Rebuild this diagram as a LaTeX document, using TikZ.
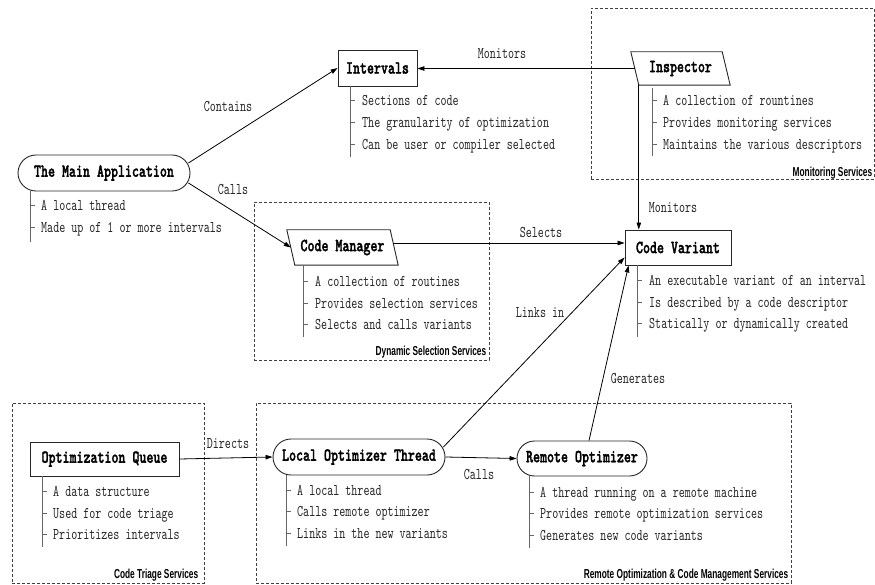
\documentclass[tikz,border=0pt]{standalone}
\usepackage{fontspec}
\usetikzlibrary{arrows.meta,shapes.misc,calc}
\newfontfamily\bodyf{lmmono10-regular.otf}[FakeStretch=0.70]
\newfontfamily\titlef{lmmonolt10-bold.otf}[FakeStretch=0.72,FakeBold=1.6]
\newfontfamily\grpf[FakeStretch=0.64]{Liberation Sans}
\tikzset{
  x=1pt, y=-1pt,
  boxline/.style={draw=black!85, line width=0.9pt},
  box/.style={boxline, inner sep=0pt, font=\titlef\fontsize{18.5}{22}\selectfont, text=black},
  rbox/.style={box, rounded rectangle},
  pbox/.style={inner sep=0pt, font=\titlef\fontsize{18.5}{22}\selectfont, text=black},
  item/.style={anchor=base west, inner sep=0pt, font=\bodyf\fontsize{16.4}{20}\selectfont, text=black!85},
  elabel/.style={inner sep=0pt, font=\bodyf\fontsize{16.4}{20}\selectfont, text=black!85},
  arr/.style={line width=0.8pt, draw=black, -{Triangle[length=7pt,width=4.5pt]}},
  grp/.style={draw=black!75, dash pattern=on 3pt off 2pt, line width=0.8pt, inner sep=0pt},
  glabel/.style={anchor=base east, inner sep=0pt, font=\grpf\bfseries\fontsize{13}{15}\selectfont, text=black},
  vline/.style={draw=black!60, line width=0.8pt},
}
\begin{document}
\begin{tikzpicture}
\useasboundingbox (0,0) rectangle (875,585);

% group boxes
\node[grp, minimum width=283pt, minimum height=171pt] (gmon) at (732.5,93.5) {};
\node[grp, minimum width=235pt, minimum height=158pt] (gsel) at (371.5,281) {};
\node[grp, minimum width=192pt, minimum height=180pt] (gtri) at (108,493) {};
\node[grp, minimum width=535pt, minimum height=180pt] (grem) at (523.5,493) {};
\node[glabel] (lmon) at ($(gmon.south east)+(-2,-3)$) {Monitoring Services};
\node[glabel] (lsel) at ($(gsel.south east)+(-3,-5)$) {Dynamic Selection Services};
\node[glabel] (ltri) at ($(gtri.south east)+(-6,-5)$) {Code Triage Services};
\node[glabel] (lrem) at ($(grem.south east)+(-3,-5)$) {Remote Optimization \& Code Management Services};

% main nodes
\node[box, minimum width=79pt, minimum height=36pt] (int) at (377.5,68) {Intervals};
\node[pbox, minimum width=91pt, minimum height=33pt] (insp) at (680.5,68.5) {Inspector};
\draw[boxline] ($(insp.north west)+(-4,0)$) -- ($(insp.north east)+(-4,0)$) -- ($(insp.south east)+(4,0)$) -- ($(insp.south west)+(4,0)$) -- cycle;
\node[rbox, minimum width=172pt, minimum height=36pt] (main) at (104,173) {The Main Application};
\node[pbox, minimum width=103pt, minimum height=35pt] (cm) at (342.5,247.5) {Code Manager};
\draw[boxline] ($(cm.north west)+(-4,0)$) -- ($(cm.north east)+(-4,0)$) -- ($(cm.south east)+(4,0)$) -- ($(cm.south west)+(4,0)$) -- cycle;
\node[box, minimum width=106pt, minimum height=35pt] (cv) at (678,247.5) {Code Variant};
\node[box, minimum width=149pt, minimum height=34pt] (oq) at (104.5,459) {Optimization Queue};
\node[rbox, minimum width=172pt, minimum height=36pt] (lot) at (359,457) {Local Optimizer Thread};
\node[rbox, minimum width=130pt, minimum height=35pt] (ro) at (582,458.5) {Remote Optimizer};

% feature lists
\draw[vline] (350,86) -- (350,157);
\foreach \yy/\txt [count=\i] in {100/Sections of code, 122/The granularity of optimization, 144/Can be user or compiler selected}{
  \draw[vline] (350,\yy) -- (355,\yy);
  \node[item] (int\i) at (362,{\yy+5.5}) {\txt};}
\draw[vline] (652,88) -- (652,156);
\foreach \yy/\txt [count=\i] in {100/A collection of rountines, 122/Provides monitoring services, 144/Maintains the various descriptors}{
  \draw[vline] (652,\yy) -- (657,\yy);
  \node[item] (insp\i) at (663,{\yy+5.5}) {\txt};}
\draw[vline] (30,191) -- (30,242);
\foreach \yy/\txt [count=\i] in {205/A local thread, 227/Made up of 1 or more intervals}{
  \draw[vline] (30,\yy) -- (35,\yy);
  \node[item] (main\i) at (41,{\yy+5.5}) {\txt};}
\draw[vline] (303,265) -- (303,337);
\foreach \yy/\txt [count=\i] in {281/A collection of routines, 303/Provides selection services, 324/Selects and calls variants}{
  \draw[vline] (303,\yy) -- (308,\yy);
  \node[item] (cm\i) at (315,{\yy+5.5}) {\txt};}
\draw[vline] (637,265) -- (637,337);
\foreach \yy/\txt [count=\i] in {280/An executable variant of an interval, 302/Is described by a code descriptor, 323/Statically or dynamically created}{
  \draw[vline] (637,\yy) -- (642,\yy);
  \node[item] (cv\i) at (649,{\yy+5.5}) {\txt};}
\draw[vline] (42,476) -- (42,547);
\foreach \yy/\txt [count=\i] in {491/A data structure, 513/Used for code triage, 534/Prioritizes intervals}{
  \draw[vline] (42,\yy) -- (47,\yy);
  \node[item] (oq\i) at (53,{\yy+5.5}) {\txt};}
\draw[vline] (286,475) -- (286,546);
\foreach \yy/\txt [count=\i] in {490/A local thread, 511/Calls remote optimizer, 533/Links in the new variants}{
  \draw[vline] (286,\yy) -- (291,\yy);
  \node[item] (lot\i) at (297,{\yy+5.5}) {\txt};}
\draw[vline] (529,476) -- (529,548);
\foreach \yy/\txt [count=\i] in {492/A thread running on a remote machine, 513/Provides remote optimization services, 535/Generates new code variants}{
  \draw[vline] (529,\yy) -- (534,\yy);
  \node[item] (ro\i) at (540,{\yy+5.5}) {\txt};}

% connectors
\draw[arr] ($(main.east)+(-2,-10)$) -- (int.west);
\draw[arr] ($(main.east)+(-2,10)$) -- (cm.west);
\draw[arr] (insp.west) -- (insp.west -| int.east);
\coordinate (inspout) at ($(insp.south west)+(4,0)$);
\draw[arr] (inspout) -- (inspout |- cv.north);
\coordinate (cmout) at ($(cm.east)+(-1,-4.5)$);
\draw[arr] (cmout) -- (cmout -| cv.west);
\draw[arr] ($(lot.east)+(-2,-10)$) -- ($(cv.south west)+(0,-8)$);
\draw[arr] ($(ro.north)+(7,0)$) -- ($(cv.south west)+(4,0)$);
\draw[arr] (oq.east) -- (lot.west);
\draw[arr] (lot.east) -- (ro.west);

% connector labels
\node[elabel] (lcontains) at (228,106) {Contains};
\node[elabel] (lcalls1) at (233,189) {Calls};
\node[elabel] (lmon1) at (502,54) {Monitors};
\node[elabel] (lmon2) at (673,208) {Monitors};
\node[elabel] (lselects) at (541,232) {Selects};
\node[elabel] (llinks) at (540,313) {Links in};
\node[elabel] (lgen) at (638,378) {Generates};
\node[elabel] (ldirects) at (228,444) {Directs};
\node[elabel] (lcalls2) at (479,474) {Calls};
\end{tikzpicture}
\end{document}
